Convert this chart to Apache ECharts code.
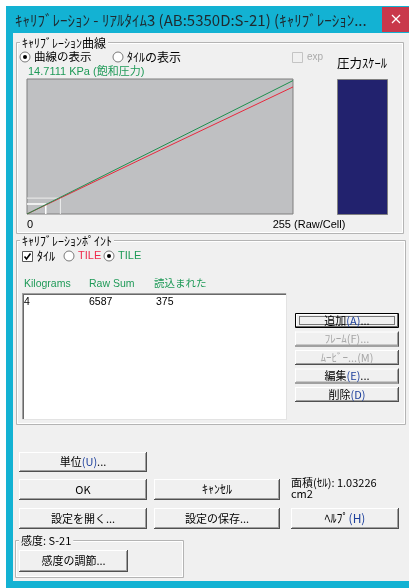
<!DOCTYPE html>
<html><head><meta charset="utf-8">
<script src="https://cdn.jsdelivr.net/npm/echarts@6/dist/echarts.min.js"></script>
<style>html,body{margin:0;padding:0;background:#fff;}#c{width:409px;height:588px;}</style>
</head><body><div id="c"></div>
<script>
// ---------------- data ----------------
const xTickValues = [0, 255];
const xTickLabels = ['0', '255 (Raw/Cell)'];
const greenCurve = [[0, 0], [255, 252]];
const redCurve = [[0, 0], [128, 121], [255, 240]];
const tileOuter = [[0, 30], [32, 30], [32, 0]];
const tileInner = [[0, 19], [18, 19], [18, 0]];
const listHeaders = ['Kilograms', 'Raw Sum', '読込まれた'];
const listRow = ['4', '6587', '375'];
const saturationLabel = '14.7111 KPa (飽和圧力)';
const areaLines = ['面積(ｾﾙ): 1.03226', 'cm2'];
const windowTitle = 'ｷｬﾘﾌﾞﾚｰｼｮﾝ - ﾘｱﾙﾀｲﾑ3 (AB:5350D:S-21) (ｷｬﾘﾌﾞﾚｰｼｮﾝ...';

// ---------------- drawing helpers ----------------
const F = "'Liberation Sans','Noto Sans CJK JP',sans-serif";
const J = "'Noto Sans CJK JP',sans-serif";
const G = [];
function rect(x, y, w, h, fill, stroke, z) {
  G.push({type: 'rect', silent: true, z: z == null ? 1 : z,
    shape: {x: x, y: y, width: w, height: h},
    style: {fill: fill || 'none', stroke: stroke || 'none', lineWidth: 1}});
}
function line(x1, y1, x2, y2, color, z, w) {
  G.push({type: 'line', silent: true, z: z == null ? 4 : z,
    shape: {x1: x1, y1: y1, x2: x2, y2: y2},
    style: {stroke: color, lineWidth: w || 1}});
}
function text(t, x, y, o) {
  o = o || {};
  const st = {text: t, x: x, y: y, fill: o.fill || '#000',
    font: (o.weight || 'normal') + ' ' + (o.size || 11) + 'px ' + (o.fam || F),
    textAlign: o.align || 'left', textVerticalAlign: 'middle'};
  if (o.bg) { st.backgroundColor = o.bg; st.padding = [0, 2, 0, 2]; }
  if (o.rich) st.rich = o.rich;
  G.push({type: 'text', silent: true, z: o.z || 6, style: st});
}
function button(x, y, w, h, label, o) {
  o = o || {};
  rect(x, y, w, h, '#f0f0f0', null, 3);
  if (o.def) {
    rect(x + 0.5, y + 0.5, w - 1, h - 1, null, '#000', 4);
    line(x + 1, y + 1.5, x + w - 2, y + 1.5, '#fff');
    line(x + 1.5, y + 1, x + 1.5, y + h - 2, '#fff');
    line(x + 1, y + h - 1.5, x + w - 1, y + h - 1.5, '#696969');
    line(x + w - 1.5, y + 1, x + w - 1.5, y + h - 1, '#696969');
    G.push({type: 'rect', silent: true, z: 5,
      shape: {x: x + 4.5, y: y + 3.5, width: w - 9, height: h - 7},
      style: {fill: 'none', stroke: '#000', lineWidth: 1, lineDash: [1, 1]}});
  } else {
    line(x, y + 0.5, x + w, y + 0.5, '#ffffff');
    line(x + 0.5, y, x + 0.5, y + h, '#ffffff');
    line(x, y + h - 0.5, x + w, y + h - 0.5, '#505050');
    line(x + w - 0.5, y, x + w - 0.5, y + h, '#505050');
    line(x + 1, y + h - 1.5, x + w - 1, y + h - 1.5, '#a0a0a0');
    line(x + w - 1.5, y + 1, x + w - 1.5, y + h - 1, '#a0a0a0');
  }
  const m = /^(.*?)(\([A-Z]\))(.*)$/.exec(label);
  const col = o.disabled ? '#a6a6a6' : '#000';
  const sz = o.size || 11;
  if (m && !o.disabled) {
    text('{a|' + m[1] + '}{b|' + m[2] + '}{a|' + m[3] + '}', x + w / 2, y + h / 2, {
      align: 'center', size: sz, fam: J,
      rich: {a: {fill: col, fontSize: sz, fontFamily: J},
             b: {fill: '#1c3f9c', fontSize: sz, fontFamily: J}}});
  } else {
    text(label, x + w / 2, y + h / 2, {align: 'center', size: sz, fill: col, fam: J});
  }
}
function groupBox(x1, y1, x2, y2, title, tsize) {
  rect(x1 + 0.5, y1 + 0.5, x2 - x1, y2 - y1, null, '#b4b4b4', 2);
  rect(x1 + 1.5, y1 + 1.5, x2 - x1 - 2, y2 - y1 - 2, null, '#ffffff', 2);
  text(title, x1 + 4, y1 + 1, {size: tsize || 12, fam: J, bg: '#f0f0f0'});
}
function radio(cx, cy, sel) {
  G.push({type: 'circle', silent: true, z: 4, shape: {cx: cx, cy: cy, r: 5},
    style: {fill: '#fff', stroke: '#7a7a7a', lineWidth: 1}});
  if (sel) G.push({type: 'circle', silent: true, z: 5, shape: {cx: cx, cy: cy, r: 2},
    style: {fill: '#000'}});
}
function checkbox(x, y, checked, disabled) {
  rect(x + 0.5, y + 0.5, 10, 10, disabled ? '#f0f0f0' : '#fff', disabled ? '#c4c4c4' : '#5a5a5a', 4);
  if (checked) G.push({type: 'polyline', silent: true, z: 5,
    shape: {points: [[x + 2.5, y + 5.5], [x + 4.5, y + 8], [x + 8.5, y + 2.5]]},
    style: {stroke: '#000', lineWidth: 1.6, fill: 'none'}});
}

// ---------------- window frame ----------------
rect(0, 0, 409, 588, '#ffffff', null, -10);
rect(6, 6, 403, 582, '#13b2d3', null, -9);
rect(13, 33, 396, 548, '#f0f0f0', null, -8);
text(windowTitle, 15, 20, {size: 15, fam: J, fill: '#1f2a30'});
rect(382, 7, 27, 25, '#c9384b', null, 3);
line(392, 15, 400, 23, '#fff', 5, 1.3);
line(400, 15, 392, 23, '#fff', 5, 1.3);

// ---------------- calibration curve group ----------------
groupBox(16, 42, 403, 233, 'ｷｬﾘﾌﾞﾚｰｼｮﾝ曲線');
radio(25, 57, true);
text('曲線の表示', 34, 57, {size: 11.5, fam: J});
radio(118, 57, false);
text('ﾀｲﾙの表示', 127, 57, {size: 12, fam: J});
text(saturationLabel, 28, 72, {size: 11, fill: '#1f9a58'});
checkbox(292, 52, false, true);
text('exp', 307, 57, {size: 10, fill: '#ababab'});
text('圧力ｽｹｰﾙ', 337, 63, {size: 12.5, fam: J});
rect(337.5, 79.5, 50, 135, '#22226e', '#808080', 3);

// ---------------- calibration points group ----------------
groupBox(16, 240, 405, 424, 'ｷｬﾘﾌﾞﾚｰｼｮﾝﾎﾟｲﾝﾄ');
checkbox(22, 251, true, false);
text('ﾀｲﾙ', 37, 256, {size: 12, fam: J});
radio(69, 256, false);
text('TILE', 78, 256, {size: 11, fill: '#ee2a4c'});
radio(109, 256, true);
text('TILE', 118, 256, {size: 11, fill: '#1f9a58'});
const colX = [24, 89, 154];
listHeaders.forEach((h, i) => text(h, colX[i], 284, {size: 10.5, fill: '#1f9a58'}));
rect(22, 293, 265, 127, '#ffffff', null, 3);
line(22, 293.5, 287, 293.5, '#a0a0a0');
line(22.5, 293, 22.5, 420, '#a0a0a0');
line(23, 294.5, 286, 294.5, '#696969');
line(23.5, 294, 23.5, 419, '#696969');
line(22, 419.5, 287, 419.5, '#e3e3e3');
line(286.5, 293, 286.5, 420, '#e3e3e3');
const rowX = [24, 89, 156];
listRow.forEach((v, i) => text(v, rowX[i], 302, {size: 10.5}));

const sideButtons = ['追加(A)...', 'ﾌﾚｰﾑ(F)...', 'ﾑｰﾋﾞｰ...(M)', '編集(E)...', '削除(D)'];
sideButtons.forEach((b, i) => button(295, 313 + i * 18.5, 104, 15, b,
  {def: i === 0, disabled: i === 1 || i === 2, size: 11}));

// ---------------- bottom buttons ----------------
button(19, 452, 128, 20, '単位(U)...');
button(19, 479, 128, 21, 'OK');
button(154, 479, 126, 21, 'ｷｬﾝｾﾙ', {size: 12});
text(areaLines[0], 291, 483, {size: 11, fam: J});
text(areaLines[1], 291, 494, {size: 11, fam: J});
button(19, 508, 128, 21, '設定を開く...');
button(154, 508, 126, 21, '設定の保存...');
button(291, 508, 108, 21, 'ﾍﾙﾌﾟ(H)', {size: 12});
groupBox(15, 540, 183, 577, '感度: S-21', 11);
button(19, 550, 109, 22, '感度の調節...');

// ---------------- chart ----------------
const chart = echarts.init(document.getElementById('c'), null, {renderer: 'canvas'});
chart.setOption({
  animation: false,
  graphic: G,
  grid: {left: 27, top: 79, width: 266, height: 135, show: true,
    backgroundColor: '#bfc0c2', borderColor: '#7f7f7f', borderWidth: 1, z: 2},
  xAxis: {type: 'value', min: 0, max: 255,
    axisLine: {show: false}, axisTick: {show: false}, splitLine: {show: false},
    axisLabel: {show: true, customValues: xTickValues, margin: 5,
      formatter: v => {
        const i = xTickValues.indexOf(v);
        return i === 0 ? '{z|' + xTickLabels[i] + '}' : '{r|' + xTickLabels[i] + '}';
      },
      rich: {
        z: {fontSize: 11, fontFamily: F, color: '#000', padding: [0, 0, 0, 6]},
        r: {fontSize: 11, fontFamily: F, color: '#000', padding: [0, 0, 0, 32]}
      }}},
  yAxis: {type: 'value', min: 0, max: 255, show: false},
  series: [
    {type: 'line', data: tileOuter, showSymbol: false, silent: true, z: 3,
      lineStyle: {color: '#eeeeee', width: 1}},
    {type: 'line', data: tileInner, showSymbol: false, silent: true, z: 3,
      lineStyle: {color: '#ffffff', width: 1.5}},
    {type: 'line', data: greenCurve, showSymbol: false, silent: true, z: 5,
      lineStyle: {color: '#1f8f4e', width: 1}},
    {type: 'line', data: redCurve, showSymbol: false, silent: true, z: 4,
      lineStyle: {color: '#e8283c', width: 1}}
  ]
});
</script>
</body></html>
